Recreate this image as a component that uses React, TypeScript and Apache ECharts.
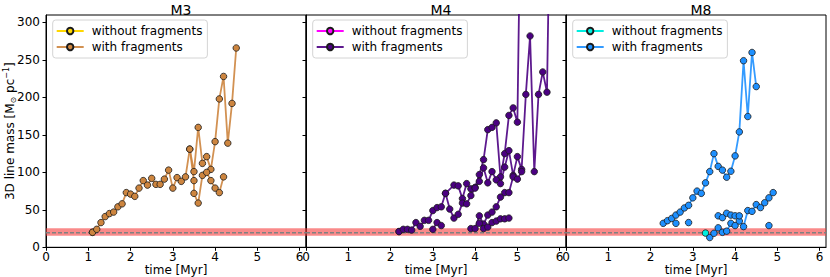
import React, { useEffect, useRef } from 'react';
import * as echarts from 'echarts';

// ---------- data ----------
const PANELS = ['M3', 'M4', 'M8'];
const X_TICKS = [0, 1, 2, 3, 4, 5, 6];
const Y_TICKS = [0, 50, 100, 150, 200, 250, 300];
const X_MAX = 6.15;
const Y_MAX = 310;
const BAND_LO = 15.5;
const BAND_HI = 25.5;
const BAND_MID = 19.5;

const WITHOUT_COLORS = ['#FFD700', '#FF00FF', '#00EEE0'];
const WITH_COLORS = ['#CD853F', '#4B0082', '#1E90FF'];

// M3
const M3_WITHOUT = [[1.1, 20]];
const M3_FRAG_A = [
  [1.1, 20], [1.2, 24], [1.3, 33], [1.4, 41], [1.5, 45], [1.6, 47], [1.7, 54], [1.8, 58],
  [1.9, 73], [2.0, 71], [2.1, 68], [2.2, 79], [2.3, 89], [2.4, 83], [2.5, 92], [2.6, 84],
  [2.7, 84], [2.8, 91], [2.9, 103], [3.0, 79], [3.1, 93], [3.2, 88], [3.3, 94], [3.4, 131],
  [3.5, 101], [3.6, 160], [3.7, 112], [3.8, 121], [3.9, 104], [4.0, 141], [4.1, 198],
  [4.2, 228], [4.3, 139], [4.4, 192], [4.5, 266],
];
const M3_FRAG_B = [
  [3.4, 131], [3.5, 89], [3.5, 72], [3.6, 59], [3.7, 96], [3.8, 100], [3.9, 89], [4.0, 79],
  [4.1, 73], [4.2, 94],
];

// M4
const M4_WITHOUT = [[2.2, 21]];
const M4_FRAG_A = [
  [2.2, 21], [2.3, 24], [2.4, 24], [2.5, 23], [2.6, 33], [2.7, 28], [2.8, 36], [2.9, 36],
  [3.0, 49], [3.1, 53], [3.2, 54], [3.3, 72], [3.5, 83], [3.6, 82], [3.7, 65], [3.8, 85],
  [3.9, 78], [4.0, 80], [4.1, 97], [4.2, 117], [4.3, 157], [4.4, 160], [4.5, 166], [4.6, 94],
  [4.7, 125], [4.8, 176], [4.9, 186], [5.0, 167], [5.1, 560],
];
const M4_FRAG_B = [
  [3.3, 72], [3.4, 51], [3.5, 39], [3.6, 44], [3.7, 59], [3.8, 58], [3.9, 69], [4.0, 79],
  [4.1, 88], [4.2, 106], [4.3, 86], [4.4, 101], [4.5, 90], [4.6, 85], [4.7, 107], [4.8, 129],
  [4.9, 96], [5.0, 121], [5.1, 104], [5.2, 204], [5.3, 282], [5.4, 101], [5.5, 204],
  [5.6, 234], [5.7, 207], [5.8, 560],
];
const M4_FRAG_C = [[3.0, 24], [3.1, 33], [3.2, 29]];
const M4_FRAG_D = [
  [3.9, 25], [4.0, 25], [4.1, 42], [4.2, 31], [4.3, 43], [4.4, 47], [4.5, 54], [4.6, 67],
  [4.7, 73], [4.8, 73], [4.9, 94], [5.0, 91], [5.1, 101],
];
const M4_FRAG_E = [[4.1, 32], [4.2, 25], [4.3, 27], [4.4, 33], [4.5, 35], [4.6, 38], [4.7, 38], [4.8, 39]];

// M8
const M8_WITHOUT = [[3.3, 19]];
const M8_FRAG_A = [
  [2.3, 32], [2.4, 35.5], [2.5, 38.5], [2.6, 43], [2.7, 47], [2.8, 52.5], [2.9, 56], [3.0, 66],
  [3.1, 75], [3.2, 72], [3.3, 86], [3.4, 101], [3.5, 125], [3.6, 108], [3.7, 103], [3.8, 93.5],
  [3.9, 101.5], [4.0, 122], [4.1, 154], [4.2, 249], [4.3, 174.5], [4.4, 260], [4.5, 214.5],
];
const M8_FRAG_B = [[2.6, 32]];
const M8_FRAG_C = [[2.9, 33]];
const M8_FRAG_D = [[4.8, 29]];
const M8_FRAG_E = [
  [3.4, 13], [3.5, 18.7], [3.6, 26], [3.7, 20], [3.8, 21.5], [3.9, 32], [4.0, 29], [4.1, 35],
  [4.2, 27.6], [4.3, 49], [4.4, 48], [4.5, 57], [4.6, 53], [4.7, 59.5], [4.8, 66], [4.9, 73],
];
const M8_FRAG_F = [[3.6, 42], [3.7, 39.6], [3.8, 45.4], [3.9, 43], [4.0, 42], [4.1, 42]];

const WITHOUT_DATA = [M3_WITHOUT, M4_WITHOUT, M8_WITHOUT];
const WITH_DATA = [
  [M3_FRAG_A, M3_FRAG_B],
  [M4_FRAG_A, M4_FRAG_B, M4_FRAG_C, M4_FRAG_D, M4_FRAG_E],
  [M8_FRAG_A, M8_FRAG_B, M8_FRAG_C, M8_FRAG_D, M8_FRAG_E, M8_FRAG_F],
];

// ---------- layout ----------
const FONT = 'DejaVu Sans';
const GRID_LEFTS = [46, 306, 566];
const GRID_W = 260;
const GRID_TOP = 15;
const GRID_H = 232.3;

function buildOption() {
  const grid = GRID_LEFTS.map((l) => ({
    left: l, top: GRID_TOP, width: GRID_W, height: GRID_H,
    containLabel: false, outerBoundsMode: 'none',
    show: true, borderColor: '#000', borderWidth: 1, backgroundColor: 'transparent',
  }));
  const xAxis = PANELS.map((_, i) => ({
    type: 'value', gridIndex: i, min: 0, max: X_MAX,
    axisLine: { show: true, onZero: false, lineStyle: { color: '#000', width: 1 } },
    axisTick: { show: true, inside: false, length: 3.5, customValues: X_TICKS, lineStyle: { color: '#000' } },
    axisLabel: { customValues: X_TICKS, color: '#000', fontSize: 12, lineHeight: 12, fontFamily: FONT, margin: 4 },
    splitLine: { show: false },
    name: 'time [Myr]', nameLocation: 'middle', nameGap: 16.5, nameMoveOverlap: false,
    nameTextStyle: { color: '#000', fontSize: 12, lineHeight: 12, fontFamily: FONT, verticalAlign: 'top' },
  }));
  const yAxis = PANELS.map((_, i) => ({
    type: 'value', gridIndex: i, min: 0, max: Y_MAX,
    axisLine: { show: true, onZero: false, lineStyle: { color: '#000', width: 1 } },
    axisTick: { show: true, inside: false, length: 3.5, customValues: Y_TICKS, lineStyle: { color: '#000' } },
    axisLabel: { show: i === 0, customValues: Y_TICKS, color: '#000', fontSize: 12, fontFamily: FONT, margin: 6 },
    splitLine: { show: false },
    name: i === 0 ? '3D line mass [M{sub|⊙} pc{sup|−1}]' : '',
    nameLocation: 'middle', nameGap: 29, nameMoveOverlap: false,
    nameTextStyle: {
      color: '#000', fontSize: 12, fontFamily: FONT, lineHeight: 15,
      rich: {
        sub: { fontSize: 8, lineHeight: 8, verticalAlign: 'bottom', fontFamily: FONT, color: '#000' },
        sup: { fontSize: 8, lineHeight: 8, verticalAlign: 'top', fontFamily: FONT, color: '#000' },
      },
    },
  }));
  const title = PANELS.map((p, i) => ({
    text: p, left: GRID_LEFTS[i] + GRID_W / 2, top: -2, textAlign: 'center',
    textStyle: { fontSize: 14, fontWeight: 'normal', fontFamily: FONT, color: '#000' },
  }));
  const legend = PANELS.map((p, i) => ({
    data: [`${p}|without fragments`, `${p}|with fragments`],
    formatter: (n: string) => n.split('|')[1],
    left: GRID_LEFTS[i] + 6.7, top: 20, orient: 'vertical',
    itemWidth: 27, itemHeight: 8, itemGap: 4, padding: [5, 5, 5, 3],
    backgroundColor: '#fff', borderColor: '#d4d4d4', borderWidth: 1, borderRadius: 3,
    textStyle: { fontSize: 12, fontFamily: FONT, color: '#000', padding: [0, 0, 0, 3] },
    selectedMode: false,
  }));

  const series: any[] = [];
  PANELS.forEach((p, i) => {
    series.push({
      type: 'line', name: `${p}|band`, xAxisIndex: i, yAxisIndex: i, z: 1,
      data: [[0, BAND_MID], [X_MAX, BAND_MID]], symbol: 'none', silent: true,
      lineStyle: { color: '#808080', width: 1.5, type: [4, 2] },
      markArea: {
        silent: true,
        itemStyle: { color: 'rgba(245, 60, 60, 0.6)' },
        data: [[{ yAxis: BAND_LO }, { yAxis: BAND_HI }]],
      },
    });
    series.push({
      type: 'line', name: `${p}|without fragments`, xAxisIndex: i, yAxisIndex: i, z: 2,
      data: WITHOUT_DATA[i], symbol: 'circle', symbolSize: 6.5, showSymbol: true,
      itemStyle: { color: WITHOUT_COLORS[i], borderColor: '#1a1a1a', borderWidth: 0.8 },
      lineStyle: { color: WITHOUT_COLORS[i], width: 1.8 },
    });
    WITH_DATA[i].forEach((frag) => {
      series.push({
        type: 'line', name: `${p}|with fragments`, xAxisIndex: i, yAxisIndex: i, z: 3,
        data: frag, symbol: 'circle', symbolSize: 6.5, showSymbol: true, clip: true,
        itemStyle: { color: WITH_COLORS[i], borderColor: '#1a1a1a', borderWidth: 0.8 },
        lineStyle: { color: WITH_COLORS[i], width: 1.8, opacity: 0.9 },
      });
    });
  });

  return { animation: false, backgroundColor: '#fff', grid, xAxis, yAxis, title, legend, series };
}

export default function App() {
  const ref = useRef<HTMLDivElement>(null);
  useEffect(() => {
    document.body.style.margin = '0';
    const chart = echarts.init(ref.current as HTMLDivElement, undefined, { renderer: 'svg' });
    chart.setOption(buildOption() as any);
    return () => chart.dispose();
  }, []);
  return (
    <div
      ref={ref}
      style={{ position: 'absolute', left: 0, top: 0, width: 830, height: 277, background: '#fff' }}
    />
  );
}
